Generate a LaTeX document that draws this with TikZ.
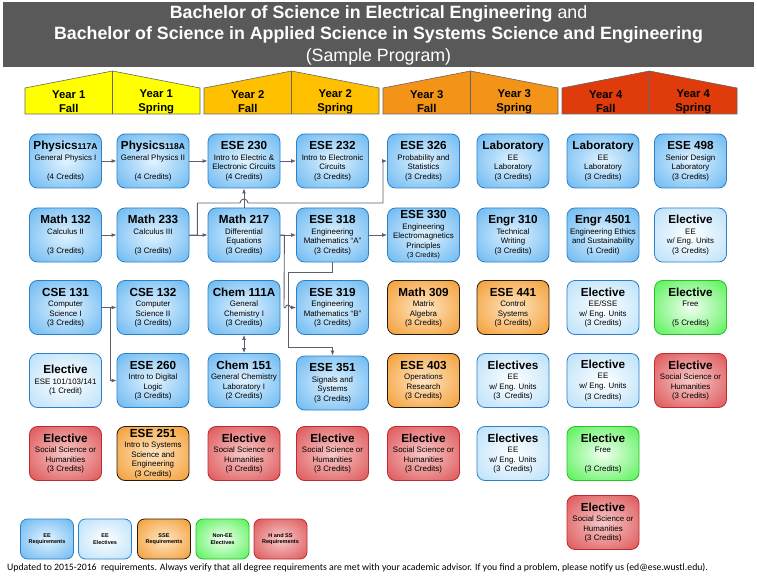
\documentclass[tikz,border=0pt]{standalone}
\usepackage{fontspec}
\setmainfont{Liberation Sans}
\newfontfamily\notefont{Carlito}
\usetikzlibrary{arrows.meta}

\definecolor{barGray}{HTML}{595959}
\definecolor{yrOne}{HTML}{FFFF00}
\definecolor{yrTwo}{HTML}{FFC000}
\definecolor{yrThree}{HTML}{F39318}
\definecolor{yrFour}{HTML}{E03C0B}
\definecolor{eeIn}{HTML}{E2F3FF}
\definecolor{eeOut}{HTML}{4DAAEE}
\definecolor{eeLine}{HTML}{2F7FC4}
\definecolor{elIn}{HTML}{FFFFFF}
\definecolor{elOut}{HTML}{A9D9F8}
\definecolor{sseIn}{HTML}{FFE6C4}
\definecolor{sseOut}{HTML}{F08C12}
\definecolor{sseLine}{HTML}{2A1A0A}
\definecolor{freeIn}{HTML}{F2FFF2}
\definecolor{freeOut}{HTML}{30EE30}
\definecolor{freeLine}{HTML}{28C028}
\definecolor{hssIn}{HTML}{F8CACA}
\definecolor{hssOut}{HTML}{D6383B}
\definecolor{hssLine}{HTML}{C02A2E}
\definecolor{linkGray}{HTML}{5E5E6E}

\pgfdeclareradialshading{eeGlow}{\pgfpoint{0bp}{0bp}}{color(0bp)=(eeIn); color(44bp)=(eeOut); color(75bp)=(eeOut)}
\pgfdeclareradialshading{elGlow}{\pgfpoint{0bp}{0bp}}{color(0bp)=(elIn); color(44bp)=(elOut); color(75bp)=(elOut)}
\pgfdeclareradialshading{sseGlow}{\pgfpoint{0bp}{0bp}}{color(0bp)=(sseIn); color(44bp)=(sseOut); color(75bp)=(sseOut)}
\pgfdeclareradialshading{freeGlow}{\pgfpoint{0bp}{0bp}}{color(0bp)=(freeIn); color(44bp)=(freeOut); color(75bp)=(freeOut)}
\pgfdeclareradialshading{hssGlow}{\pgfpoint{0bp}{0bp}}{color(0bp)=(hssIn); color(44bp)=(hssOut); color(75bp)=(hssOut)}

\begin{document}
\begin{tikzpicture}[
    x=1pt, % one unit is one pixel of the sheet
    y=-1pt, % rows are counted downwards
    every node/.style={inner sep=0pt, align=center},
    card/.style={rounded corners=8pt, line width=0.8pt, minimum width=72pt, minimum height=54pt, font=\fontsize{7.9}{9.5}\selectfont},
    ee req/.style={card, shading=eeGlow, draw=eeLine},
    ee elec/.style={card, shading=elGlow, draw=eeLine},
    sse req/.style={card, shading=sseGlow, draw=sseLine},
    free elec/.style={card, shading=freeGlow, draw=freeLine},
    hss req/.style={card, shading=hssGlow, draw=hssLine},
    key box/.style={minimum width=53pt, minimum height=40pt, rounded corners=7pt, font=\fontsize{5.5}{6.5}\selectfont\bfseries},
    hdr/.style={font=\fontsize{11.3}{14}\selectfont\bfseries},
    link/.style={draw=linkGray, line width=0.9pt, -{Latex[length=5pt,width=4pt]}},
    link both/.style={link, {Latex[length=5pt,width=4pt]}-{Latex[length=5pt,width=4pt]}}
    ]
\useasboundingbox (0,0) rectangle (757,577);

\def\crs#1{{\fontsize{11.7}{12}\selectfont\bfseries #1}\\[1pt]}
\def\sml#1{{\fontsize{8.5}{9}\selectfont #1}}

% --- Title bar ---
\fill[barGray] (3,2) rectangle (754,67);
\node[text=white, font=\fontsize{17.8}{21.5}\selectfont] (title) at (378.5,35)
    {\textbf{Bachelor of Science in Electrical Engineering} and\\
     \textbf{Bachelor of Science in Applied Science in Systems Science and Engineering}\\
     (Sample Program)};

% --- Year headers ---
\foreach \fillc [count=\i from 0] in {yrOne,yrTwo,yrThree,yrFour} {
    \pgfmathsetmacro{\xl}{25+179*\i}
    \pgfmathsetmacro{\xm}{\xl+87.5}
    \pgfmathsetmacro{\xr}{\xl+175}
    \pgfmathtruncatemacro{\yr}{\i+1}
    \filldraw[fill=\fillc, draw=gray!80!black, line width=0.6pt]
        (\xl,114) -- (\xl,88) -- (\xm,71) -- (\xr,88) -- (\xr,114) -- cycle;
    \draw[gray!80!black, line width=0.6pt] (\xm,71) -- (\xm,114);
    \node[hdr] (fall-\yr) at ({(\xl+\xm)/2},101.5) {Year \yr\\Fall};
    \node[hdr] (spring-\yr) at ({(\xm+\xr)/2},101.5) {Year \yr\\Spring};
}

% --- Year 1 ---
\node[ee req] (phys117) at (65.5,161) {\crs{Physics\sml{117A}}General Physics I\\\mbox{}\\(4 Credits)};
\node[ee req] (math132) at (65.5,235) {\crs{Math 132}Calculus II\\\mbox{}\\(3 Credits)};
\node[ee req] (cse131) at (65.5,307.5) {\crs{CSE 131}Computer\\Science I\\(3 Credits)};
\node[ee elec] (elec101) at (65.5,380.5) {\crs{Elective}ESE 101/103/141\\(1 Credit)};
\node[hss req] (hssA) at (65.5,453.5) {\crs{Elective}Social Science or\\Humanities\\(3 Credits)};

\node[ee req] (phys118) at (153,161) {\crs{Physics\sml{118A}}General Physics II\\\mbox{}\\(4 Credits)};
\node[ee req] (math233) at (153,235) {\crs{Math 233}Calculus III\\\mbox{}\\(3 Credits)};
\node[ee req] (cse132) at (153,307.5) {\crs{CSE 132}Computer\\Science II\\(3 Credits)};
\node[ee req] (ese260) at (153,380.5) {\crs{ESE 260}Intro to Digital\\Logic\\(3 Credits)};
\node[sse req] (ese251) at (153,453.5) {\crs{ESE 251}Intro to Systems\\Science and\\Engineering\\(3 Credits)};

% --- Year 2 ---
\node[ee req] (ese230) at (244,161) {\crs{ESE 230}Intro to Electric \&\\Electronic Circuits\\(4 Credits)};
\node[ee req] (math217) at (244,235) {\crs{Math 217}Differential\\Equations\\(3 Credits)};
\node[ee req] (chem111) at (244,307.5) {\crs{Chem 111A}General\\Chemistry I\\(3 Credits)};
\node[ee req] (chem151) at (244,380.5) {\crs{Chem 151}General Chemistry\\Laboratory I\\(2 Credits)};
\node[hss req] (hssB) at (244,453.5) {\crs{Elective}Social Science or\\Humanities\\(3 Credits)};

\node[ee req] (ese232) at (332.5,161) {\crs{ESE 232}Intro to Electronic\\Circuits\\(3 Credits)};
\node[ee req] (ese318) at (332.5,235) {\crs{ESE 318}Engineering\\Mathematics “A”\\(3 Credits)};
\node[ee req] (ese319) at (332.5,307.5) {\crs{ESE 319}Engineering\\Mathematics “B”\\(3 Credits)};
\node[ee req] (ese351) at (332.5,383) {\crs{ESE 351}Signals and\\Systems\\(3 Credits)};
\node[hss req] (hssC) at (332.5,453.5) {\crs{Elective}Social Science or\\Humanities\\(3 Credits)};

% --- Year 3 ---
\node[ee req] (ese326) at (423.5,161) {\crs{ESE 326}Probability and\\Statistics\\(3 Credits)};
\node[ee req] (ese330) at (423.5,235) {\crs{ESE 330}Engineering\\Electromagnetics\\Principles\\{\fontsize{7}{8}\selectfont (3 Credits)}};
\node[sse req] (math309) at (423.5,307.5) {\crs{Math 309}Matrix\\Algebra\\(3 Credits)};
\node[sse req] (ese403) at (423.5,380.5) {\crs{ESE 403}Operations\\Research\\(3 Credits)};
\node[hss req] (hssD) at (423.5,453.5) {\crs{Elective}Social Science or\\Humanities\\(3 Credits)};

\node[ee req] (labA) at (513,161) {\crs{Laboratory}EE\\Laboratory\\(3 Credits)};
\node[ee req] (engr310) at (513,235) {\crs{Engr 310}Technical\\Writing\\(3 Credits)};
\node[sse req] (ese441) at (513,307.5) {\crs{ESE 441}Control\\Systems\\(3 Credits)};
\node[ee elec] (elecA) at (513,380.5) {\crs{Electives}EE\\w/ Eng. Units\\(3\ \ Credits)};
\node[ee elec] (elecB) at (513,453.5) {\crs{Electives}EE\\w/ Eng. Units\\(3\ \ Credits)};

% --- Year 4 ---
\node[ee req] (labB) at (603,161) {\crs{Laboratory}EE\\Laboratory\\(3 Credits)};
\node[ee req] (engr4501) at (603,235) {\crs{Engr 4501}Engineering Ethics\\and Sustainability\\(1 Credit)};
\node[ee elec] (elecC) at (603,307.5) {\crs{Elective}EE/SSE\\w/ Eng. Units\\(3 Credits)};
\node[ee elec] (elecD) at (603,380.5) {\crs{Elective}EE\\w/ Eng. Units\\[2pt](3 Credits)};
\node[free elec] (freeA) at (603,453.5) {\crs{Elective}Free\\\mbox{}\\(3 Credits)};
\node[hss req] (hssE) at (603,522.5) {\crs{Elective}Social Science or\\Humanities\\(3 Credits)};

\node[ee req] (ese498) at (690.5,161) {\crs{ESE 498}Senior Design\\Laboratory\\(3 Credits)};
\node[ee elec] (elecE) at (690.5,235) {\crs{Elective}EE\\w/ Eng. Units\\(3 Credits)};
\node[free elec] (freeB) at (690.5,307.5) {\crs{Elective}Free\\\mbox{}\\(5 Credits)};
\node[hss req] (hssF) at (690.5,380.5) {\crs{Elective}Social Science or\\Humanities\\(3 Credits)};

% --- Prerequisite links ---
\draw[link] (phys117) -- (phys118);
\draw[link] (phys118) -- (ese230);
\draw[link] (ese230) -- (ese232);
\draw[link] (math132) -- (math233);
\draw[link] (math233) -- (math217);
\draw[link] (math217) -- (ese230);
\draw[link] (math217) -- (ese318);
\draw[link] (ese318) -- (ese330);
\draw[link] (math233.east) -- ++(8,0) -- ++(0,-32) -- (240,203)
    arc[start angle=180, end angle=0, radius=4pt] -- (383,203) |- (ese326.west);
\draw[link] (math217.east) -- ++(4,0) -- (284,307.5) -- (285.5,307.5)
    arc[start angle=180, end angle=0, radius=2.5pt] -- (ese319.west);
\draw[link] (ese318.south) -- ++(0,10) -| (288,347) -| (ese351.north);
\draw[link] (cse131) -- (cse132);
\draw[link] (cse131.east) -- ++(8.5,0) |- (ese260.west);
\draw[link both] (chem111) -- (chem151);

% --- Key ---
\node[key box, shading=eeGlow, draw=eeLine, line width=0.8pt] (key-ee) at (47,539) {EE\\Requirements};
\node[key box, shading=elGlow, draw=eeLine, line width=0.8pt] (key-el) at (105,539) {EE\\Electives};
\node[key box, shading=sseGlow, draw=sseLine, line width=0.8pt] (key-sse) at (164,539) {SSE\\Requirements};
\node[key box, shading=freeGlow, draw=freeLine, line width=0.8pt] (key-free) at (222.5,539) {Non-EE\\Electives};
\node[key box, shading=hssGlow, draw=hssLine, line width=0.8pt] (key-hss) at (280.5,539) {H and SS\\Requirements};

% --- Note ---
\node[anchor=west, font=\notefont\fontsize{9.75}{11}\selectfont] (note) at (7,568)
    {Updated to 2015-2016\ \ requirements. Always verify that all degree requirements are met with your academic advisor. If you find a problem, please notify us (ed@ese.wustl.edu).};

\end{tikzpicture}
\end{document}
